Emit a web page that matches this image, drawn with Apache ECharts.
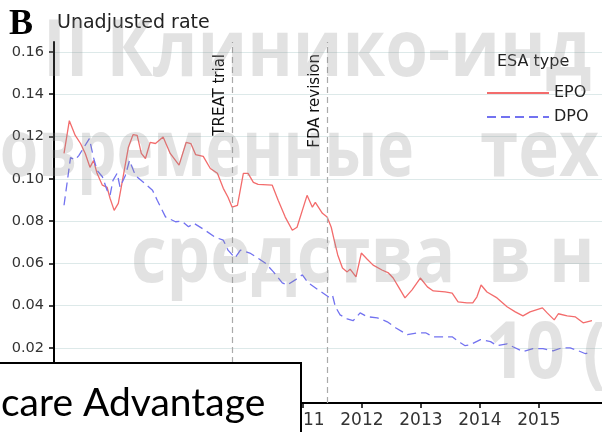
<!DOCTYPE html>
<html>
<head>
<meta charset="utf-8">
<script src="https://cdn.jsdelivr.net/npm/echarts@6/dist/echarts.min.js"></script>
<style>
    html, body { margin: 0; padding: 0; background: #fff; }
    #chart { width: 602px; height: 432px; }
</style>
</head>
<body>
<div id="chart"></div>
<script>
const yearTicks = [2007, 2008, 2009, 2010, 2011, 2012, 2013, 2014, 2015];
const rateTicks = [0.02, 0.04, 0.06, 0.08, 0.10, 0.12, 0.14, 0.16];

const seriesNames = ['EPO', 'DPO'];

const epoYears = [
    2006.95, 2007.04, 2007.14, 2007.23, 2007.31, 2007.39, 2007.45, 2007.51, 2007.6, 2007.68,
    2007.73, 2007.8, 2007.87, 2007.95, 2008.04, 2008.12, 2008.19, 2008.26, 2008.33, 2008.41,
    2008.5, 2008.63, 2008.75, 2008.9, 2009.02, 2009.1, 2009.18, 2009.31, 2009.43, 2009.55,
    2009.65, 2009.73, 2009.8, 2009.89, 2009.99, 2010.07, 2010.16, 2010.24, 2010.48, 2010.58,
    2010.7, 2010.82, 2010.9, 2011.07, 2011.16, 2011.21, 2011.33, 2011.41, 2011.48, 2011.53,
    2011.59, 2011.67, 2011.75, 2011.8, 2011.9, 2011.99, 2012.09, 2012.19, 2012.34, 2012.45,
    2012.53, 2012.62, 2012.73, 2012.85, 2012.99, 2013.11, 2013.21, 2013.41, 2013.53, 2013.63,
    2013.78, 2013.88, 2013.95, 2014.02, 2014.12, 2014.29, 2014.46, 2014.6, 2014.73, 2014.85,
    2015.06, 2015.14, 2015.26, 2015.33, 2015.48, 2015.62, 2015.75, 2015.9
];
const epoRates = [
    0.112, 0.1275, 0.1205, 0.1167, 0.112, 0.1054, 0.1087, 0.1026, 0.097, 0.096,
    0.0908, 0.0851, 0.0884, 0.1007, 0.1148, 0.1209, 0.1205, 0.112, 0.1096, 0.1172,
    0.1167, 0.1198, 0.112, 0.1065, 0.1172, 0.1167, 0.1115, 0.1106, 0.1049, 0.1026,
    0.0955, 0.0913, 0.0866, 0.0875, 0.1026, 0.1026, 0.0983, 0.0974, 0.097, 0.0899,
    0.0819, 0.0757, 0.0771, 0.0922, 0.0866, 0.0889, 0.0837, 0.0819, 0.0771, 0.071,
    0.064, 0.0578, 0.056, 0.0573, 0.0536, 0.0649, 0.062, 0.0592, 0.0569, 0.0555,
    0.0531, 0.0489, 0.0437, 0.0475, 0.0531, 0.0489, 0.047, 0.0465, 0.046, 0.0418,
    0.0413, 0.0413, 0.0442, 0.0498, 0.0465, 0.0437, 0.0395, 0.0371, 0.0352, 0.0371,
    0.039, 0.0366, 0.0333, 0.0362, 0.0352, 0.0347, 0.0319, 0.0329
];

const dpoYears = [
    2006.95, 2007.06, 2007.14, 2007.2, 2007.38, 2007.45, 2007.51, 2007.6, 2007.68, 2007.73,
    2007.78, 2007.85, 2007.9, 2007.99, 2008.06, 2008.16, 2008.29, 2008.45, 2008.53, 2008.67,
    2008.84, 2008.95, 2009.06, 2009.15, 2009.34, 2009.51, 2009.65, 2009.73, 2009.85, 2009.94,
    2010.1, 2010.23, 2010.36, 2010.5, 2010.65, 2010.73, 2010.87, 2010.99, 2011.09, 2011.26,
    2011.43, 2011.5, 2011.55, 2011.63, 2011.75, 2011.85, 2011.97, 2012.09, 2012.26, 2012.43,
    2012.57, 2012.77, 2012.94, 2013.08, 2013.21, 2013.41, 2013.53, 2013.67, 2013.75, 2013.84,
    2014.01, 2014.18, 2014.29, 2014.46, 2014.56, 2014.73, 2014.9, 2015.07, 2015.24, 2015.39,
    2015.53, 2015.67, 2015.79, 2015.9
];
const dpoRates = [
    0.0875, 0.110, 0.109, 0.111, 0.119, 0.110, 0.104, 0.101, 0.0946, 0.0922,
    0.0993, 0.1026, 0.0961, 0.1016, 0.1087, 0.1016, 0.0985, 0.0946, 0.0899, 0.082,
    0.0797, 0.080, 0.0773, 0.079, 0.0757, 0.0724, 0.071, 0.0663, 0.0626, 0.0663,
    0.0649, 0.0626, 0.0602, 0.056, 0.0508, 0.0498, 0.0522, 0.0546, 0.0508, 0.0475,
    0.0442, 0.0451, 0.0395, 0.0357, 0.0338, 0.0329, 0.0366, 0.0348, 0.0343, 0.0324,
    0.0296, 0.0263, 0.0272, 0.0272, 0.0253, 0.0253, 0.0253, 0.0225, 0.0211, 0.0216,
    0.024, 0.023, 0.0211, 0.022, 0.0206, 0.0183, 0.0197, 0.0197, 0.0187, 0.0201,
    0.0201, 0.0187, 0.0173, 0.0183
];

const eventYears = [2009.8, 2011.41];
const eventNames = ['TREAT trial', 'FDA revision'];

const toPairs = function (xs, ys) {
    return xs.map(function (x, i) { return [x, ys[i]]; });
};

const axisFont = 'DejaVu Sans';
const watermarkFill = 'rgba(140,140,140,0.25)';
const watermarkFont = 'bold 69px "Open Sans"';

// slide watermark sitting over the figure
const watermarkText = function (text, x, y, align, scaleX) {
    return {
        type: 'text', x: x, y: y, z: 100, silent: true, scaleY: 1.14, scaleX: scaleX || 1,
        style: {
            text: text, font: watermarkFont, fill: watermarkFill,
            align: align || 'left', textAlign: align || 'left',
            verticalAlign: 'middle', textVerticalAlign: 'middle'
        }
    };
};

const chart = echarts.init(document.getElementById('chart'), null, {renderer: 'canvas'});

chart.setOption({
    animation: false,
    backgroundColor: '#ffffff',
    grid: {left: 54, right: 0, top: 42, bottom: 29, containLabel: false},
    xAxis: {
        type: 'value',
        min: 2006.78,
        max: 2016.07,
        axisLine: {onZero: false, lineStyle: {color: '#000', width: 2}},
        axisTick: {customValues: yearTicks, length: 5, lineStyle: {color: '#000', width: 1.5}},
        axisLabel: {
            customValues: yearTicks, margin: 9, fontSize: 17, fontFamily: axisFont, color: '#333',
            formatter: function (v) { return String(Math.round(v)); }
        },
        splitLine: {show: false}
    },
    yAxis: {
        type: 'value',
        min: -0.006,
        max: 0.1647,
        axisLine: {show: true, lineStyle: {color: '#000', width: 2}},
        axisTick: {show: true, customValues: rateTicks, length: 5, lineStyle: {color: '#000', width: 1.5}},
        axisLabel: {
            customValues: rateTicks, margin: 10, fontSize: 14.5, fontFamily: axisFont, color: '#333',
            formatter: function (v) { return v.toFixed(2); }
        },
        splitLine: {show: true, lineStyle: {color: '#dde9e9', width: 1}}
    },
    legend: {
        data: seriesNames,
        orient: 'vertical',
        left: 481,
        top: 80,
        itemWidth: 62,
        itemHeight: 14,
        itemGap: 8,
        itemStyle: {opacity: 0},
        textStyle: {fontSize: 16, fontFamily: axisFont, color: '#222'}
    },
    graphic: [
        {type: 'text', left: 9, top: 7, style: {text: 'B', font: 'bold 36px "Liberation Serif"', fill: '#000'}},
        {type: 'text', left: 57, top: 14, style: {text: 'Unadjusted rate', font: '19px "DejaVu Sans"', fill: '#222'}},
        {type: 'text', left: 497, top: 54, style: {text: 'ESA type', font: '16px "DejaVu Sans"', fill: '#222'}},
        watermarkText('II Клинико-инд', 43, 54),
        watermarkText('Современные', 414, 154, 'right', 0.9),
        watermarkText('тех', 480, 154),
        watermarkText('средства', 131, 260),
        watermarkText('в', 488, 260),
        watermarkText('н', 549, 260),
        watermarkText('10 (', 486, 356),
        {
            type: 'rect', z: 200,
            shape: {x: -3, y: 363, width: 304, height: 80},
            style: {fill: '#fff', stroke: '#000', lineWidth: 2}
        },
        {
            type: 'text', z: 201, left: 1, top: 384,
            style: {text: 'care Advantage', font: '39px Lato', fill: '#000'}
        }
    ],
    series: [
        {
            name: seriesNames[0],
            type: 'line',
            data: toPairs(epoYears, epoRates),
            showSymbol: false,
            symbol: 'none',
            color: '#f36c6c',
            lineStyle: {color: '#f36c6c', width: 1.3},
            markLine: {
                silent: true,
                symbol: ['none', 'none'],
                lineStyle: {color: '#aaa', type: [6, 4], width: 1.2},
                label: {
                    show: true, position: 'insideEndTop', formatter: '{b}',
                    color: '#111', fontSize: 15, fontFamily: axisFont,
                    distance: [12, 5]
                },
                data: eventYears.map(function (x, i) { return {xAxis: x, name: eventNames[i]}; })
            }
        },
        {
            name: seriesNames[1],
            type: 'line',
            data: toPairs(dpoYears, dpoRates),
            showSymbol: false,
            symbol: 'none',
            color: '#7272f0',
            lineStyle: {color: '#7272f0', width: 1.3, type: [9, 5]}
        }
    ]
});
</script>
</body>
</html>
